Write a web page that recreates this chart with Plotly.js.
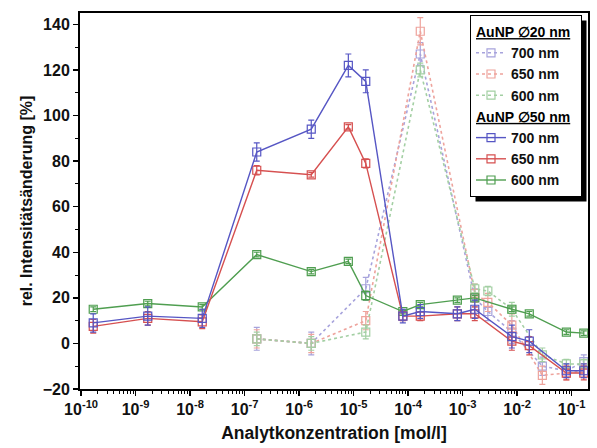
<!DOCTYPE html>
<html>
<head>
<meta charset="utf-8">
<script src="https://cdn.plot.ly/plotly-3.0.1.min.js"></script>
<style>html,body{margin:0;padding:0;background:#fff;}</style>
</head>
<body>
<div id="chart" style="width:597px;height:448px;"></div>
<script>
// concentrations [mol/l]
var x50 = [1.67e-10, 1.67e-9, 1.67e-8, 1.67e-7, 1.67e-6, 8e-6, 1.67e-5, 8e-5, 1.67e-4, 8e-4, 1.67e-3, 8e-3, 1.67e-2, 8e-2, 1.67e-1];
var x20 = [1.67e-7, 1.67e-6, 1.67e-5, 1.67e-4, 1.67e-3, 2.9e-3, 8e-3, 2.9e-2, 8e-2, 1.67e-1];

// AuNP 50 nm
var blue50  = [9, 12, 11, 84, 94, 122, 115, 12, 14, 13, 15, 3, 1, -12, -12];
var blue50e = [4, 4, 4, 4, 4, 5, 5, 3, 3, 3, 4, 5, 5, 3, 3];
var red50   = [7.5, 11, 9.5, 76, 74, 95, 79, 12, 12, 13, 13, 1, -1, -13, -13];
var red50e  = [3, 3, 3, 2, 1, 1, 2, 2, 2, 3, 3, 4, 4, 3, 3];
var green50 = [15, 17.5, 16, 39, 31.5, 36, 21, 14, 17, 19, 20, 15, 13, 5, 4.5];
var green50e= [1, 1, 1, 1, 1, 1, 2, 1, 1, 1, 1, 1, 1, 1, 1];

// AuNP 20 nm
var blue20  = [2, 0, 24, 127, 20, 14, 5, -10, -12, -8];
var blue20e = [5, 5, 5, 5, 4, 4, 5, 4, 3, 3];
var red20   = [2, 0, 10, 137, 22, 18, 8, -14, -13, -12];
var red20e  = [4, 4, 4, 6, 4, 4, 5, 4, 3, 3];
var green20 = [2, 0, 5, 120, 24, 23, 15, -5, -9, -9];
var green20e= [3, 3, 3, 3, 2, 2, 3, 3, 2, 2];

var xTickVals = [1e-10, 1e-9, 1e-8, 1e-7, 1e-6, 1e-5, 1e-4, 1e-3, 1e-2, 1e-1];
var xTickText = ['10<sup>-10</sup>', '10<sup>-9</sup>', '10<sup>-8</sup>', '10<sup>-7</sup>', '10<sup>-6</sup>',
                 '10<sup>-5</sup>', '10<sup>-4</sup>', '10<sup>-3</sup>', '10<sup>-2</sup>', '10<sup>-1</sup>'];

var C = {
  b50: '#5656c4', r50: '#d65050', g50: '#4f9e50',
  b20: '#a7a3dc', r20: '#eea39c', g20: '#a3cfa3'
};

function tr(x, y, e, name, color, dash, group, title) {
  var t = {
    x: x, y: y, name: name, type: 'scatter', mode: 'lines+markers',
    line: {color: color, width: dash === 'dot' ? 1.6 : 1.4, dash: dash},
    marker: {symbol: 'square-open', size: 8, color: color, line: {width: 1.2, color: color}},
    error_y: {type: 'data', array: e, visible: true, color: color, thickness: 1.2, width: 3},
    legendgroup: group
  };
  if (title) t.legendgrouptitle = {text: title, font: {size: 14, weight: 'bold', color: '#000'}};
  return t;
}

var u = function (s) { return '<span style="text-decoration:underline">' + s + '</span>'; };

var data = [
  tr(x20, blue20, blue20e, '700 nm', C.b20, 'dot', 'g20', u('AuNP \u220520 nm')),
  tr(x20, red20, red20e, '650 nm', C.r20, 'dot', 'g20'),
  tr(x20, green20, green20e, '600 nm', C.g20, 'dot', 'g20'),
  tr(x50, green50, green50e, '600 nm', C.g50, 'solid', 'g50'),
  tr(x50, red50, red50e, '650 nm', C.r50, 'solid', 'g50'),
  tr(x50, blue50, blue50e, '700 nm', C.b50, 'solid', 'g50', u('AuNP \u220550 nm'))
];
data[3].legendrank = 1003; data[4].legendrank = 1002; data[5].legendrank = 1001;
data[0].legendrank = 1; data[1].legendrank = 2; data[2].legendrank = 3;

// plot area in pixels: x 80..588, y 13..389
function px2paperX(p) { return (p - 80) / 508; }
function px2paperY(p) { return (389 - p) / 376; }

var layout = {
  width: 597, height: 448,
  margin: {l: 80, r: 9, t: 13, b: 59},
  paper_bgcolor: '#fff', plot_bgcolor: '#fff',
  font: {family: 'Liberation Sans, Arial, sans-serif', size: 14, color: '#111', weight: 'bold'},
  showlegend: true,
  legend: {
    x: px2paperX(470), y: px2paperY(15), xanchor: 'left', yanchor: 'top',
    bgcolor: '#fff', bordercolor: '#000', borderwidth: 1,
    font: {size: 14, weight: 'bold', color: '#111'},
    tracegroupgap: 0, itemwidth: 30, traceorder: 'grouped'
  },
  xaxis: {
    type: 'log', range: [-10.02, -0.7],
    tickmode: 'array', tickvals: xTickVals, ticktext: xTickText,
    ticks: 'outside', ticklen: 5, tickwidth: 1.5, tickcolor: '#000',
    minor: {ticks: 'outside', ticklen: 3, tickwidth: 1, tickcolor: '#000', dtick: 'D1', showgrid: false},
    showline: true, linecolor: '#000', linewidth: 2, mirror: true,
    showgrid: false, zeroline: false,
    tickfont: {size: 16, weight: 'bold'},
    title: {text: 'Analytkonzentration [mol/l]', font: {size: 17.5, weight: 'bold'}, standoff: 10}
  },
  yaxis: {
    range: [-20, 145], tickmode: 'linear', tick0: -20, dtick: 20,
    ticks: 'outside', ticklen: 5, tickwidth: 1.5, tickcolor: '#000',
    minor: {ticks: 'outside', ticklen: 3, tickwidth: 1, tickcolor: '#000', dtick: 10, showgrid: false},
    showline: true, linecolor: '#000', linewidth: 2, mirror: true,
    showgrid: false, zeroline: false,
    tickfont: {size: 16, weight: 'bold'},
    title: {text: 'rel. Intensitätsänderung [%]', font: {size: 16, weight: 'bold'}, standoff: 6}
  },
  shapes: [
    {type: 'rect', xref: 'paper', yref: 'paper',
     x0: px2paperX(476), x1: px2paperX(591), y0: px2paperY(194), y1: px2paperY(21),
     fillcolor: '#000', line: {width: 0}, layer: 'above'}
  ]
};

Plotly.newPlot('chart', data, layout, {displayModeBar: false, staticPlot: true}).then(function (gd) {
  // fit shadow to the real legend box
  var bg = gd.querySelector('.legend .bg');
  if (bg) {
    var r = bg.getBoundingClientRect();
    var c = gd.getBoundingClientRect();
    var L = r.left - c.left, T = r.top - c.top, W = r.width, H = r.height;
    Plotly.relayout(gd, {
      'shapes[0].x0': px2paperX(L + 5), 'shapes[0].x1': px2paperX(L + W + 5),
      'shapes[0].y0': px2paperY(T + H + 5), 'shapes[0].y1': px2paperY(T + 5)
    });
  }
});
</script>
</body>
</html>
